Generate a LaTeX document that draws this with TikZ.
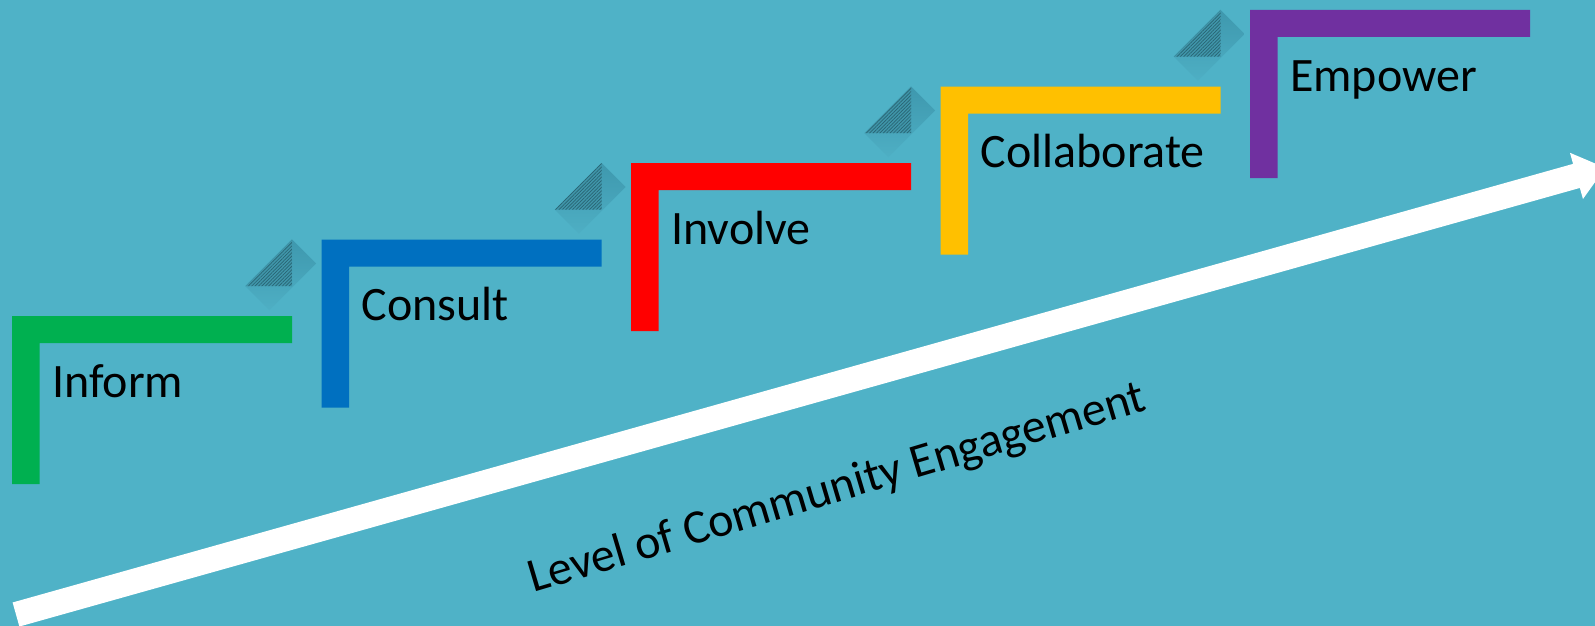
\documentclass[tikz,border=0pt]{standalone}
\usepackage{fontspec}
\setmainfont{Carlito}
\usetikzlibrary{patterns.meta}
\definecolor{bg}{RGB}{79,178,199}
\definecolor{cgreen}{RGB}{0,176,80}
\definecolor{cblue}{RGB}{0,112,192}
\definecolor{cred}{RGB}{255,0,0}
\definecolor{cyellow}{RGB}{255,192,0}
\definecolor{cpurple}{RGB}{112,48,160}
\definecolor{dmtop}{RGB}{62,152,174}
\definecolor{dmbot}{RGB}{78,175,196}
\definecolor{hatchbase}{RGB}{64,150,170}
\definecolor{hatchline}{RGB}{40,100,115}
\begin{document}
\begin{tikzpicture}[x=1pt,y=-1pt,
  lbl/.style={anchor=base west, inner sep=0pt, font=\fontsize{48}{58}\selectfont, text=black},
  stepbar/.style={draw=none}]
\useasboundingbox (0,0) rectangle (1595,626);
\fill[bg] (0,0) rectangle (1595,626);
% diamond icons
\foreach \i in {1,...,4} {
  \pgfmathsetmacro\dx{12+309.5*(\i-1)+280}
  \pgfmathsetmacro\dy{316-76.5*\i}
  \begin{scope}[shift={(\dx,\dy)}]
    \shade[top color=dmtop, bottom color=dmbot] (0,0) -- (24,24) -- (-22.7,70.7) -- (-46.7,46.7) -- cycle;
    \fill[hatchbase] (0,0) -- (0,46.7) -- (-46.7,46.7) -- cycle;
    \fill[pattern={Lines[angle=45,distance=2.4pt,line width=0.7pt]}, pattern color=hatchline] (0,0) -- (0,46.7) -- (-46.7,46.7) -- cycle;
  \end{scope}
}
% steps
\foreach \i/\c/\t in {0/cgreen/Inform,1/cblue/Consult,2/cred/Involve,3/cyellow/Collaborate,4/cpurple/Empower} {
  \pgfmathsetmacro\L{12+309.5*\i}
  \pgfmathsetmacro\T{316-76.5*\i}
  \fill[\c, stepbar] (\L,\T) -- (\L+280,\T) -- (\L+280,\T+27) -- (\L+27.5,\T+27) -- (\L+27.5,\T+168) -- (\L,\T+168) -- cycle;
  \node[lbl] (label\i) at (\L+40,\T+81) {\t};
}
% arrow
\begin{scope}[shift={(16,614.5)}, rotate=15.7]
  \coordinate (tail) at (0,0);
  \coordinate (tip) at (1651,0);
  \fill[white] (0,-12.5) -- (1621,-12.5) -- (1621,-24) -- (tip) -- (1621,24) -- (1621,12.5) -- (0,12.5) -- cycle;
\end{scope}
\node[lbl, rotate=16.6] (level) at (533,593) {Level of Community Engagement};
\end{tikzpicture}
\end{document}
